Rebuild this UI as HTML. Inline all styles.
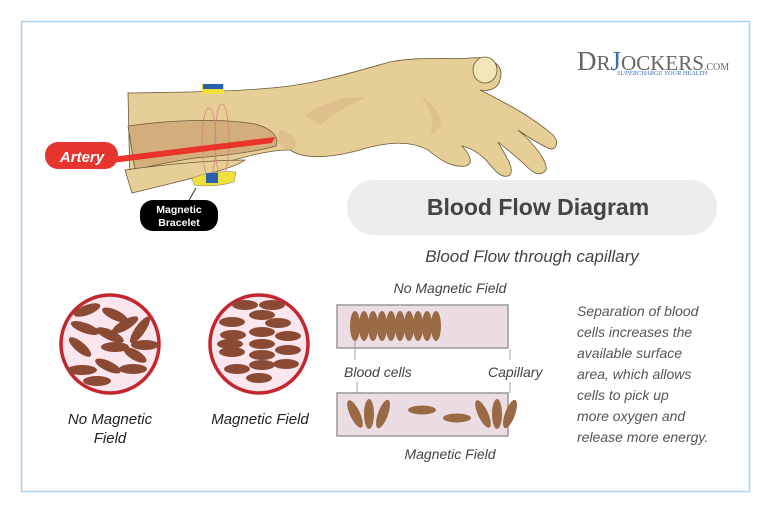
<!DOCTYPE html>
<html><head><meta charset="utf-8"><style>
body{margin:0;background:#fff;}
svg{display:block;font-family:"Liberation Sans",sans-serif;}
</style></head><body>
<svg width="768" height="512" viewBox="0 0 768 512" xmlns="http://www.w3.org/2000/svg">
<rect x="0" y="0" width="768" height="512" fill="#fff"/>
<rect x="21.5" y="21.5" width="728" height="470" fill="#fff" stroke="#a9d3ee" stroke-width="1.5"/>

<!-- hand -->
<path d="M128 93 C190 92 240 92 290 86 C330 80 360 70 390 62 C420 56 450 60 470 58 C490 56 505 64 500 80 C498 88 490 92 480 90 C500 100 530 115 553 135 C560 142 556 152 548 148 C535 142 525 135 518 130 C530 140 548 160 546 170 C540 178 532 172 525 165 C515 155 505 148 498 142 C505 155 515 168 510 175 C502 180 494 170 486 160 C478 152 470 148 462 146 C470 155 474 163 466 166 C452 168 440 160 428 150 C410 140 385 142 360 150 C330 158 305 160 290 150 C260 150 230 162 200 170 L130 184 Z" fill="#e6cf96" stroke="#6b5a3a" stroke-width="0.8"/>
<path d="M128 126 C170 120 220 118 255 124 C270 128 280 136 276 146 C255 152 220 156 195 158 C170 162 150 166 135 170 Z" fill="#d2ae7c" stroke="#6b5a3a" stroke-width="0.8"/>
<path d="M125 170 C160 165 210 160 245 160 C235 168 200 176 185 180 C165 185 145 190 132 193 Z" fill="#e6cf96" stroke="#6b5a3a" stroke-width="0.8"/>
<path d="M280 130 C300 135 300 150 290 150 C280 150 276 142 280 130 Z" fill="#d9b987" opacity="0.7"/>
<path d="M305 115 C330 100 350 95 365 98 C352 104 340 110 320 125 Z" fill="#d9b987" opacity="0.7"/>
<path d="M420 95 C440 110 450 125 430 135 C435 120 430 108 420 95 Z" fill="#d9b987" opacity="0.6"/>
<ellipse cx="485" cy="70" rx="12" ry="13" fill="#f3e6b8" stroke="#6b5a3a" stroke-width="0.8"/>
<!-- field loops -->
<g fill="none" stroke="#d98080" stroke-width="0.8">
<ellipse cx="209" cy="142" rx="7" ry="34"/><ellipse cx="222" cy="140" rx="7" ry="36"/>
</g>
<!-- artery -->
<path d="M112 157 L200 146 L275 137 L272 143 L200 152 L112 163 Z" fill="#e8342a"/>
<!-- magnets -->
<rect x="202" y="84" width="22" height="10" fill="#f2e03a"/><rect x="203" y="84" width="20" height="5" fill="#2a5fb0"/>
<path d="M192 178 Q212 170 236 172 L234 182 Q214 188 194 185 Z" fill="#f2e03a" stroke="#777" stroke-width="0.5"/>
<rect x="206" y="173" width="12" height="10" fill="#2a5fb0"/>
<line x1="196" y1="188" x2="188" y2="202" stroke="#333" stroke-width="1"/>
<rect x="45" y="142" width="73" height="27" rx="13" fill="#e5352e"/>
<text x="82" y="162" text-anchor="middle" fill="#fff" font-weight="bold" font-style="italic" font-size="15">Artery</text>
<rect x="140" y="200" width="78" height="31" rx="13" fill="#000"/>
<text x="179" y="213" text-anchor="middle" fill="#fff" font-weight="bold" font-size="10.5">Magnetic</text>
<text x="179" y="226" text-anchor="middle" fill="#fff" font-weight="bold" font-size="10.5">Bracelet</text>

<!-- logo -->
<text x="577" y="70" font-family="Liberation Serif,serif" font-size="27" fill="#666">D<tspan font-size="21">R</tspan><tspan fill="#3a6fb5">J</tspan><tspan font-size="21">OCKERS</tspan><tspan font-size="10">.COM</tspan></text>
<text x="617" y="75" font-family="Liberation Serif,serif" font-style="italic" font-size="6.5" fill="#3a6fb5">SUPERCHARGE YOUR HEALTH</text>

<!-- title pill -->
<rect x="347" y="180" width="370" height="55" rx="27" fill="#ececec"/>
<text x="538" y="215" text-anchor="middle" font-size="23" font-weight="bold" fill="#444">Blood Flow Diagram</text>
<text x="532" y="262" text-anchor="middle" font-size="17" font-style="italic" fill="#444">Blood Flow through capillary</text>

<!-- circles -->
<circle cx="110" cy="344" r="49" fill="#fbe6ee" stroke="#c3262e" stroke-width="3.5"/>
<g fill="#8a4a34">
<ellipse cx="87" cy="310" rx="14" ry="5" transform="rotate(-20 87 310)"/>
<ellipse cx="115" cy="315" rx="14" ry="5" transform="rotate(25 115 315)"/>
<ellipse cx="125" cy="325" rx="15" ry="5" transform="rotate(-30 125 325)"/>
<ellipse cx="140" cy="330" rx="16" ry="5" transform="rotate(-55 140 330)"/>
<ellipse cx="85" cy="328" rx="15" ry="5" transform="rotate(20 85 328)"/>
<ellipse cx="110" cy="335" rx="15" ry="5" transform="rotate(25 110 335)"/>
<ellipse cx="80" cy="347" rx="14" ry="5" transform="rotate(40 80 347)"/>
<ellipse cx="115" cy="347" rx="14" ry="5"/>
<ellipse cx="145" cy="345" rx="14" ry="5"/>
<ellipse cx="135" cy="355" rx="13" ry="5" transform="rotate(30 135 355)"/>
<ellipse cx="82" cy="370" rx="15" ry="5"/>
<ellipse cx="108" cy="366" rx="14" ry="5" transform="rotate(25 108 366)"/>
<ellipse cx="133" cy="369" rx="14" ry="5"/>
<ellipse cx="97" cy="381" rx="14" ry="5"/>
</g>
<circle cx="259" cy="344" r="49" fill="#fbe6ee" stroke="#c3262e" stroke-width="3.5"/>
<g fill="#8a4a34">
<ellipse cx="245" cy="305" rx="13" ry="5"/><ellipse cx="272" cy="305" rx="13" ry="5"/>
<ellipse cx="262" cy="315" rx="13" ry="5"/>
<ellipse cx="232" cy="322" rx="13" ry="5"/><ellipse cx="278" cy="323" rx="13" ry="5"/>
<ellipse cx="233" cy="335" rx="13" ry="5"/><ellipse cx="262" cy="332" rx="13" ry="5"/><ellipse cx="288" cy="336" rx="13" ry="5"/>
<ellipse cx="230" cy="344" rx="13" ry="5"/><ellipse cx="262" cy="344" rx="13" ry="5"/>
<ellipse cx="232" cy="352" rx="13" ry="5"/><ellipse cx="262" cy="355" rx="13" ry="5"/><ellipse cx="288" cy="350" rx="13" ry="5"/>
<ellipse cx="262" cy="365" rx="13" ry="5"/><ellipse cx="286" cy="364" rx="13" ry="5"/>
<ellipse cx="237" cy="369" rx="13" ry="5"/><ellipse cx="259" cy="378" rx="13" ry="5"/>
</g>
<g font-size="15" font-style="italic" fill="#222" text-anchor="middle">
<text x="110" y="424">No Magnetic</text><text x="110" y="443">Field</text>
<text x="260" y="424">Magnetic Field</text>
</g>

<!-- capillaries -->
<text x="450" y="293" text-anchor="middle" font-size="14" font-style="italic" fill="#444">No Magnetic Field</text>
<rect x="337" y="305" width="171" height="43" fill="#ecdde4" stroke="#999" stroke-width="1.5"/>
<g fill="#9a6a45">
<ellipse cx="355" cy="326" rx="5" ry="15"/><ellipse cx="364" cy="326" rx="5" ry="15"/><ellipse cx="373" cy="326" rx="5" ry="15"/>
<ellipse cx="382" cy="326" rx="5" ry="15"/><ellipse cx="391" cy="326" rx="5" ry="15"/><ellipse cx="400" cy="326" rx="5" ry="15"/>
<ellipse cx="409" cy="326" rx="5" ry="15"/><ellipse cx="418" cy="326" rx="5" ry="15"/><ellipse cx="427" cy="326" rx="5" ry="15"/>
<ellipse cx="436" cy="326" rx="5" ry="15"/>
</g>
<g stroke="#888" stroke-width="0.8">
<line x1="355" y1="340" x2="355" y2="360"/><line x1="357" y1="382" x2="357" y2="408"/>
<line x1="510" y1="349" x2="510" y2="360"/><line x1="510" y1="382" x2="510" y2="393"/>
</g>
<text x="344" y="377" font-size="14" font-style="italic" fill="#444">Blood cells</text>
<text x="488" y="377" font-size="14" font-style="italic" fill="#444">Capillary</text>
<rect x="337" y="393" width="171" height="43" fill="#ecdde4" stroke="#999" stroke-width="1.5"/>
<g fill="#9a6a45">
<ellipse cx="355" cy="414" rx="5" ry="15" transform="rotate(-25 355 414)"/>
<ellipse cx="369" cy="414" rx="5" ry="15"/>
<ellipse cx="383" cy="414" rx="5" ry="15" transform="rotate(20 383 414)"/>
<ellipse cx="422" cy="410" rx="14" ry="4.5"/>
<ellipse cx="457" cy="418" rx="14" ry="4.5"/>
<ellipse cx="483" cy="414" rx="5" ry="15" transform="rotate(-25 483 414)"/>
<ellipse cx="497" cy="414" rx="5" ry="15"/>
<ellipse cx="510" cy="414" rx="5" ry="15" transform="rotate(20 510 414)"/>
</g>
<text x="450" y="459" text-anchor="middle" font-size="14" font-style="italic" fill="#444">Magnetic Field</text>

<g font-size="14" font-style="italic" fill="#555">
<text x="577" y="316">Separation of blood</text>
<text x="577" y="337">cells increases the</text>
<text x="577" y="358">available surface</text>
<text x="577" y="379">area, which allows</text>
<text x="577" y="400">cells to pick up</text>
<text x="577" y="421">more oxygen and</text>
<text x="577" y="442">release more energy.</text>
</g>
</svg>
</body></html>
